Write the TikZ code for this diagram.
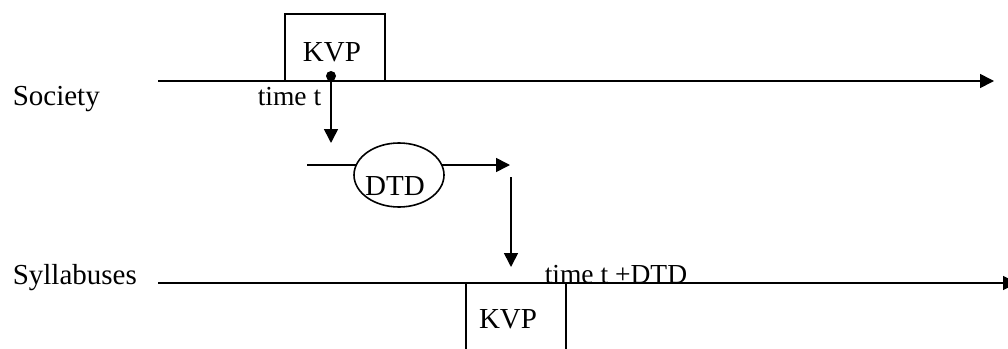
\documentclass[tikz,border=0pt]{standalone}
\usepackage{fontspec}
\setmainfont{Liberation Serif}
\usetikzlibrary{arrows.meta,shapes.geometric}
\begin{document}
\begin{tikzpicture}[x=1pt,y=-1pt,
  line width=1.6pt,
  big/.style={font=\fontsize{29}{32}\selectfont, inner sep=0pt},
  small/.style={font=\fontsize{27.5}{30}\selectfont, inner sep=0pt},
  arr/.style={-{Triangle[length=14pt,width=14pt]}},
  boxnode/.style={draw, rectangle, inner sep=0pt},
]
\clip (0,0) rectangle (1008,348);
\useasboundingbox (0,0) rectangle (1008,348);

% labels
\node[big, anchor=base west] (soc) at (12,105) {Society};
\node[big, anchor=base west] (syl) at (12,284) {Syllabuses};

% upper KVP box
\node[boxnode, minimum width=100pt, minimum height=67pt] (kvp1) at (335,47.5) {};
\node[big, anchor=base] (kvp1t) at (332,61) {KVP};

% society time line
\coordinate (s0) at (158,81);
\coordinate (s1) at (994,81);
\draw[arr] (s0) -- (s1);

% dot and down arrow
\node[circle, fill, inner sep=0pt, minimum size=10pt] (dot) at (331,76) {};
\node[small, anchor=base west] (tt) at (257,105) {time t};
\coordinate (d1) at (331,143);
\draw[arr] (dot.center) -- (d1);

% DTD ellipse
\node[draw, ellipse, minimum width=90pt, minimum height=64pt, inner sep=0pt] (dtd) at (399,175) {};
\node[big, anchor=base] (dtdt) at (395,195) {DTD};
\coordinate (e0) at (307,165);
\coordinate (e1) at (510,165);
\draw (e0) -- (356,165);
\draw[arr] (442,165) -- (e1);

% second down arrow
\coordinate (f0) at (511,177);
\coordinate (f1) at (511,267);
\draw[arr] (f0) -- (f1);

% syllabuses time line
\coordinate (y0) at (158,283);
\coordinate (y1) at (1017,283);
\draw[arr] (y0) -- (y1);
\node[small, anchor=base west] (ttd) at (544,283) {time t +DTD};

% lower KVP box (cut off at bottom)
\draw (466,370) -- (466,283) -- (566,283) -- (566,370);
\node[big, anchor=base] (kvp2t) at (508,328) {KVP};
\end{tikzpicture}
\end{document}
